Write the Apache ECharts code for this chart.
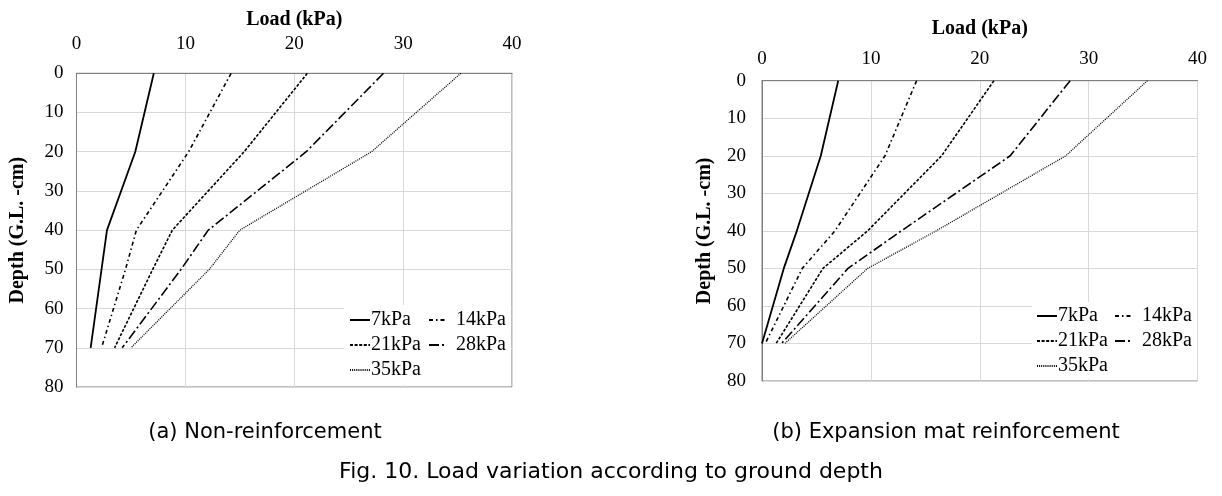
<!DOCTYPE html>
<html>
<head>
<meta charset="utf-8">
<script src="https://cdn.jsdelivr.net/npm/echarts@6/dist/echarts.min.js"></script>
<style>html,body{margin:0;padding:0;background:#fff;}#c{width:1222px;height:496px;}</style>
</head>
<body>
<div id="c"></div>
<script>
// ---- data ----
const seriesNames = ['7kPa', '14kPa', '21kPa', '28kPa', '35kPa'];
const xTicks = [0, 10, 20, 30, 40];
const yTicks = [0, 10, 20, 30, 40, 50, 60, 70, 80];

// (a) Non-reinforcement
const depthsA = [0, 20, 40, 50, 70];
const a7  = [7.1, 5.4, 2.8, 2.3, 1.3];
const a14 = [14.2, 10.3, 5.5, 4.5, 2.3];
const a21 = [21.2, 15.4, 8.8, 7.0, 3.5];
const a28 = [28.2, 21.1, 12.1, 9.6, 4.2];
const a35 = [35.3, 27.1, 15.0, 12.2, 5.0];

// (b) Expansion mat reinforcement
const depthsB = [0, 20, 40, 50, 70];
const b7  = [7.0, 5.4, 3.2, 2.0, 0.0];
const b14 = [14.2, 11.3, 6.7, 3.7, 0.3];
const b21 = [21.3, 16.5, 9.7, 5.6, 1.3];
const b28 = [28.3, 22.8, 12.8, 7.9, 1.8];
const b35 = [35.4, 27.9, 16.0, 9.7, 2.1];

const captions = ['(a) Non-reinforcement', '(b) Expansion mat reinforcement', 'Fig. 10. Load variation according to ground depth'];

// ---- styling ----
const serif = 'Liberation Serif';
const dashTypes = ['solid', [4, 3, 1.5, 3], [3, 1.6], [10, 3, 2, 3], [1, 1.1]];
const widths = [1.8, 1.6, 1.6, 1.6, 1.3];

function pairs(xs, ds) { return xs.map((v, i) => [v, ds[i]]); }

const grids = [
  { left: 76.5, top: 73.3, width: 435.5, height: 313.7 },
  { left: 762, top: 80.7, width: 435.5, height: 300.3 }
];
const labelMargins = [19.5, 12.5];
const xNameGaps = [43, 42];
const yNameGaps = [48.5, 47];
const yLabelMargins = [13, 16];

function mkX(gi) {
  return {
    gridIndex: gi, type: 'value', position: 'top', min: xTicks[0], max: xTicks[xTicks.length - 1], interval: 10,
    name: 'Load (kPa)', nameLocation: 'middle', nameGap: xNameGaps[gi],
    nameTextStyle: { fontFamily: serif, fontWeight: 'bold', fontSize: 20, color: '#000' },
    axisLine: { show: true, lineStyle: { color: '#7f7f7f', width: 1 } },
    axisTick: { show: false },
    axisLabel: { margin: labelMargins[gi], fontFamily: serif, fontSize: 19, color: '#000' },
    splitLine: { show: true, lineStyle: { color: '#d9d9d9', width: 1 } }
  };
}
function mkY(gi) {
  return {
    gridIndex: gi, type: 'value', inverse: true, min: yTicks[0], max: yTicks[yTicks.length - 1], interval: 10,
    name: 'Depth (G.L. -cm)', nameLocation: 'middle', nameGap: yNameGaps[gi], nameRotate: 90,
    nameTextStyle: { fontFamily: serif, fontWeight: 'bold', fontSize: 20, color: '#000' },
    axisLine: { show: true, lineStyle: { color: '#7f7f7f', width: 1 } },
    axisTick: { show: false },
    axisLabel: { margin: yLabelMargins[gi], fontFamily: serif, fontSize: 19, color: '#000' },
    splitLine: { show: true, lineStyle: { color: '#d9d9d9', width: 1 } }
  };
}

const dataA = [a7, a14, a21, a28, a35];
const dataB = [b7, b14, b21, b28, b35];
const series = [];
[[dataA, depthsA, 0], [dataB, depthsB, 1]].forEach(([set, ds, gi]) => {
  set.forEach((vals, k) => {
    series.push({
      name: seriesNames[k], type: 'line', xAxisIndex: gi, yAxisIndex: gi,
      data: pairs(vals, ds), symbol: 'none', silent: true, animation: false,
      lineStyle: { color: '#000', width: widths[k], type: dashTypes[k] },
      itemStyle: { color: '#000' }
    });
  });
});

function mkLegend(names, left, top, iw, textPadL) {
  return {
    orient: 'vertical', left: left, top: top, data: names,
    itemWidth: iw, itemHeight: 8, itemGap: 5,
    padding: 4, selectedMode: false, z: 6,
    itemStyle: { opacity: 0 },
    textStyle: { fontFamily: serif, fontSize: 20, color: '#000', padding: [0, 0, 0, textPadL] }
  };
}

const chart = echarts.init(document.getElementById('c'), null, { renderer: 'canvas' });
chart.setOption({
  animation: false,
  backgroundColor: '#fff',
  grid: grids.map(g => Object.assign({ show: true, borderColor: '#7f7f7f', borderWidth: 1, backgroundColor: 'transparent' }, g)),
  xAxis: [mkX(0), mkX(1)],
  yAxis: [mkY(0), mkY(1)],
  legend: [
    mkLegend(['7kPa', '21kPa', '35kPa'], 345, 306, 20, -4),
    mkLegend(['14kPa', '28kPa'], 424, 306, 16, 6),
    mkLegend(['7kPa', '21kPa', '35kPa'], 1032, 302, 20, -4),
    mkLegend(['14kPa', '28kPa'], 1110, 302, 16, 6)
  ],
  series: series,
  graphic: [
    { type: 'rect', z: 5, silent: true, shape: { x: 344, y: 305, width: 167, height: 80 }, style: { fill: '#fff' } },
    { type: 'rect', z: 5, silent: true, shape: { x: 1032, y: 302, width: 165, height: 77 }, style: { fill: '#fff' } },
    { type: 'text', x: 265, y: 433, style: { text: captions[0], fontFamily: 'DejaVu Sans', fontSize: 21, fill: '#000', textAlign: 'center', textVerticalAlign: 'middle' } },
    { type: 'text', x: 946, y: 433, style: { text: captions[1], fontFamily: 'DejaVu Sans', fontSize: 21, fill: '#000', textAlign: 'center', textVerticalAlign: 'middle' } },
    { type: 'text', x: 611, y: 472, style: { text: captions[2], fontFamily: 'DejaVu Sans', fontSize: 22, fill: '#000', textAlign: 'center', textVerticalAlign: 'middle' } }
  ]
});
</script>
</body>
</html>
